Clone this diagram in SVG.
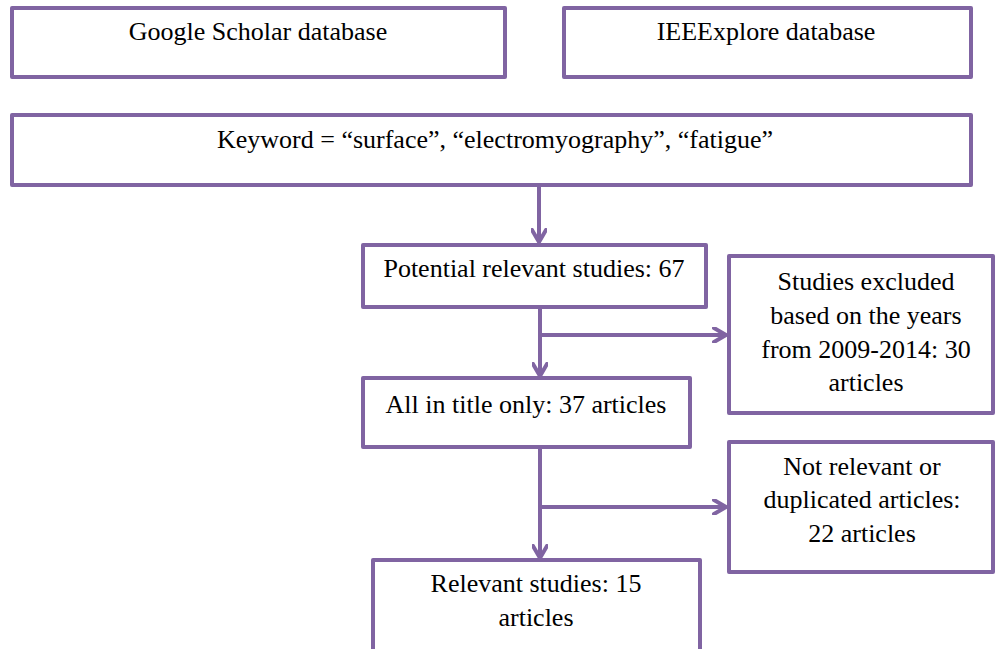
<svg xmlns="http://www.w3.org/2000/svg" width="996" height="649" viewBox="0 0 996 649">
  <style>
    .box { fill: #ffffff; stroke: #8064A2; stroke-width: 4; stroke-linejoin: round; }
    .lbl { font-family: 'Liberation Serif', 'DejaVu Serif', serif; font-size: 26px; fill: #000000; text-anchor: middle; }
    .wire { fill: none; stroke: #8064A2; stroke-width: 4; }
  </style>
  <defs>
    <marker id="chev" viewBox="0 0 16 16" refX="14" refY="8" markerWidth="16" markerHeight="16" markerUnits="userSpaceOnUse" orient="auto">
      <path d="M2,1 L14,8 L2,15" fill="none" stroke="#8064A2" stroke-width="4" stroke-linecap="round" stroke-linejoin="round"/>
    </marker>
  </defs>
  <rect width="996" height="649" fill="#ffffff"/>

  <g id="connectors">
    <path class="wire" d="M539,186 V242" marker-end="url(#chev)"/>
    <path class="wire" d="M540,309 V376" marker-end="url(#chev)"/>
    <path class="wire" d="M540,335 H726" marker-end="url(#chev)"/>
    <path class="wire" d="M540,449 V558" marker-end="url(#chev)"/>
    <path class="wire" d="M540,507 H726" marker-end="url(#chev)"/>
  </g>

  <g id="google-scholar">
    <rect class="box" x="12" y="8" width="493" height="69"/>
    <text class="lbl" x="258" y="40">Google Scholar database</text>
  </g>
  <g id="ieeexplore">
    <rect class="box" x="564" y="8" width="407" height="69"/>
    <text class="lbl" x="766" y="40">IEEExplore database</text>
  </g>
  <g id="keyword">
    <rect class="box" x="12" y="115" width="959" height="70"/>
    <text class="lbl" x="495" y="148">Keyword = “surface”, “electromyography”, “fatigue”</text>
  </g>
  <g id="potential">
    <rect class="box" x="363" y="245" width="343" height="62"/>
    <text class="lbl" x="534" y="277">Potential relevant studies: 67</text>
  </g>
  <g id="excluded-years">
    <rect class="box" x="729" y="256" width="264" height="157"/>
    <text class="lbl" x="866" y="290">Studies excluded</text>
    <text class="lbl" x="866" y="324">based on the years</text>
    <text class="lbl" x="866" y="358">from 2009-2014: 30</text>
    <text class="lbl" x="866" y="391">articles</text>
  </g>
  <g id="title-only">
    <rect class="box" x="363" y="378" width="327" height="69"/>
    <text class="lbl" x="526" y="413">All in title only: 37 articles</text>
  </g>
  <g id="not-relevant">
    <rect class="box" x="729" y="442" width="264" height="130"/>
    <text class="lbl" x="862" y="475">Not relevant or</text>
    <text class="lbl" x="862" y="508">duplicated articles:</text>
    <text class="lbl" x="862" y="542">22 articles</text>
  </g>
  <g id="relevant">
    <rect class="box" x="373" y="560" width="327" height="110"/>
    <text class="lbl" x="536" y="592">Relevant studies: 15</text>
    <text class="lbl" x="536" y="626">articles</text>
  </g>
</svg>
